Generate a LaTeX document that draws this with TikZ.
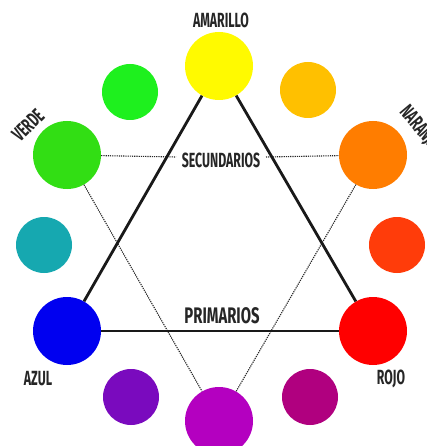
\documentclass[tikz,border=0pt]{standalone}
\usepackage{fontspec}
\newfontfamily\condf[FakeStretch=0.6]{Fira Sans}
\newfontfamily\condp[FakeStretch=0.66]{Fira Sans}
\definecolor{cyellow}{RGB}{255,250,0}
\definecolor{clgreen}{RGB}{30,240,30}
\definecolor{clorange}{RGB}{255,192,0}
\definecolor{cgreen}{RGB}{50,222,20}
\definecolor{corange}{RGB}{255,125,0}
\definecolor{cteal}{RGB}{22,168,176}
\definecolor{credor}{RGB}{255,60,10}
\definecolor{cblue}{RGB}{0,0,240}
\definecolor{cred}{RGB}{255,0,0}
\definecolor{cpurple}{RGB}{122,10,190}
\definecolor{cmagenta}{RGB}{180,0,192}
\definecolor{cmagred}{RGB}{176,0,127}
\tikzset{
  big/.style={circle,inner sep=0pt,minimum size=68pt},
  small/.style={circle,inner sep=0pt,minimum size=56pt},
  lbl/.style={font=\condf\bfseries\fontsize{20.5}{20.5}\selectfont,text=black!85,inner sep=1pt},
  prim/.style={line width=2.8pt,black!90},
  sec/.style={line width=1.1pt,black!85,dash pattern=on 1.2pt off 1pt},
}
\begin{document}
\begin{tikzpicture}[x=1pt,y=-1pt]
\useasboundingbox (0,0) rectangle (427,446);
\clip (0,0) rectangle (427,446);
\fill[white] (0,0) rectangle (427,446);
% nodes
\node[big,fill=cyellow] (yel) at (219,66) {};
\node[small,fill=clgreen] (lgr) at (130,92) {};
\node[small,fill=clorange] (lor) at (308,90) {};
\node[big,fill=cgreen] (grn) at (67,155) {};
\node[big,fill=corange] (orn) at (373,155) {};
\node[small,fill=cteal] (tea) at (44,245) {};
\node[small,fill=credor] (ror) at (397,245) {};
\node[big,fill=cblue] (blu) at (67,331) {};
\node[big,fill=cred] (red) at (373,331) {};
\node[small,fill=cpurple] (pur) at (131,397) {};
\node[small,fill=cmagred] (mgr) at (310,397) {};
\node[big,fill=cmagenta] (mag) at (219,421) {};
% labels
\node[lbl] (tam) at (221,20) {AMARILLO};
\node[lbl,rotate=45] (tve) at (28,125) {VERDE};
\node[lbl,rotate=-50] (tna) at (419,128) {NARANJA};
\node[lbl] (taz) at (38,379) {AZUL};
\node[lbl] (tro) at (391,379) {ROJO};
% secondary triangle
\coordinate (sl) at (176,157);
\coordinate (sr) at (266,157);
\draw[sec] (grn) -- (sl);
\draw[sec] (sr) -- (orn);
\draw[sec] (grn) -- (mag);
\draw[sec] (orn) -- (mag);
% primary triangle
\draw[prim] (yel) -- (blu);
\draw[prim] (yel) -- (red);
\draw[prim] (blu) -- (red);
\node[lbl] (tsec) at (221,160) {SECUNDARIOS};
\node[lbl,font=\condp\bfseries\fontsize{22.5}{22.5}\selectfont] (tpri) at (222,316) {PRIMARIOS};
\end{tikzpicture}
\end{document}
